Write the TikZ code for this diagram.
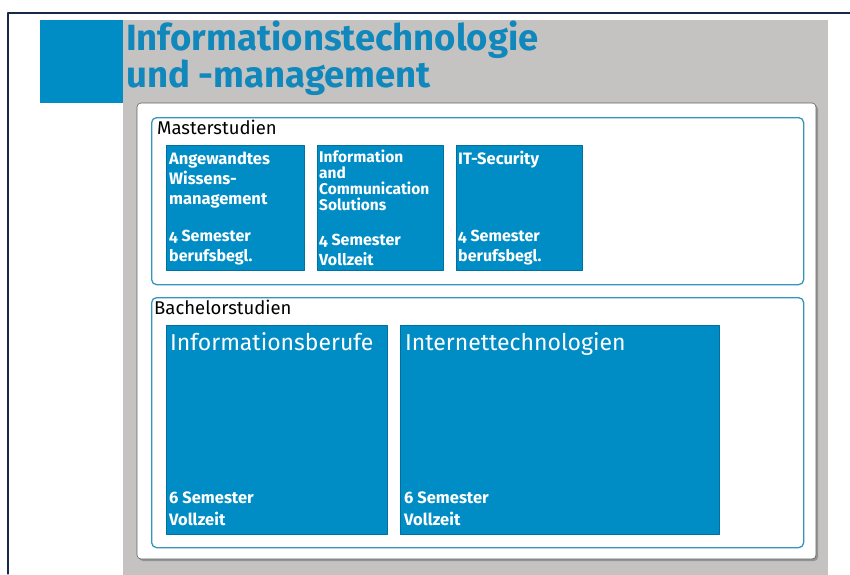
\documentclass[tikz,border=0pt]{standalone}
\usepackage{fontspec}
\setmainfont{Fira Sans}
\newcommand\oldfigs{\addfontfeature{Numbers=OldStyle}}
\definecolor{fhblue}{RGB}{0,141,198}
\definecolor{fhtitle}{RGB}{16,136,188}
\definecolor{fhframe}{RGB}{52,150,186}
\definecolor{panelgray}{RGB}{197,194,194}
\definecolor{navyline}{RGB}{22,42,72}
\tikzset{
  studbox/.style={draw=fhblue!80!black,line width=0.6pt,fill=fhblue,anchor=north west,inner sep=0pt},
  groupbox/.style={draw=fhframe,line width=1.3pt,rounded corners=5pt,fill=white,anchor=north west,inner sep=0pt},
  boxhead/.style={anchor=north west,text=white,align=left,inner sep=0pt,font=\bfseries\fontsize{16.5}{20}\selectfont},
  boxfoot/.style={anchor=south west,text=white,align=left,inner sep=0pt,font=\bfseries\oldfigs\fontsize{16}{20}\selectfont},
  grouptitle/.style={anchor=north west,inner sep=0pt,font=\fontsize{18.5}{20}\selectfont}
}
\begin{document}
\begin{tikzpicture}[x=1pt,y=-1pt,line cap=round,line join=round]
  \useasboundingbox (0,0) rectangle (850,574);
  % frame lines and title band
  \draw[navyline,line width=1.2pt] (8,574) -- (8,13) -- (850,13);
  \fill[panelgray] (123,20) rectangle (828,576);
  \fill[fhblue] (40,20) rectangle (123,103);
  \node[anchor=north west,inner sep=0pt,text=fhtitle,align=left,
        font=\bfseries\fontsize{36.5}{34}\selectfont] (title) at (126,21)
        {Informationstechnologie\\und -management};
  % white panel with shadow
  \fill[gray!85,rounded corners=4pt] (139,105) rectangle (818,561);
  \draw[gray!75!black,line width=0.6pt,fill=white,rounded corners=4pt] (137,103) rectangle (816,559);
  % master programmes
  \node[groupbox,minimum width=652,minimum height=167] (master) at (151,117) {};
  \node[grouptitle] (mastertitle) at (157,120) {Masterstudien};
  \node[studbox,minimum width=138,minimum height=125] (awm) at (166,145) {};
  \node[studbox,minimum width=126,minimum height=125] (ics) at (317,145) {};
  \node[studbox,minimum width=126,minimum height=125] (its) at (456,145) {};
  \node[boxhead] at ([xshift=3pt,yshift=-7pt]awm.north west) {Angewandtes\\Wissens-\\management};
  \node[boxhead,font=\bfseries\fontsize{15.5}{16}\selectfont] at ([xshift=2pt,yshift=-5pt]ics.north west) {Information\\and\\Communication\\Solutions};
  \node[boxhead] at ([xshift=2pt,yshift=-6pt]its.north west) {IT-Security};
  \node[boxfoot] at ([xshift=3pt,yshift=5pt]awm.south west) {4 Semester\\berufsbegl.};
  \node[boxfoot] at ([xshift=2pt,yshift=5pt]ics.south west) {4 Semester\\Vollzeit};
  \node[boxfoot] at ([xshift=2pt,yshift=5pt]its.south west) {4 Semester\\berufsbegl.};
  % bachelor programmes
  \node[groupbox,minimum width=652,minimum height=250] (bachelor) at (151,297) {};
  \node[grouptitle] (bachelortitle) at (154,300) {Bachelorstudien};
  \node[studbox,minimum width=221,minimum height=209] (ib) at (166,325) {};
  \node[studbox,minimum width=319,minimum height=209] (itec) at (400,325) {};
  \node[boxhead,font=\fontsize{23}{24}\selectfont] at ([xshift=4pt,yshift=-7pt]ib.north west) {Informationsberufe};
  \node[boxhead,font=\fontsize{23}{24}\selectfont] at ([xshift=5pt,yshift=-7pt]itec.north west) {Internettechnologien};
  \node[boxfoot,font=\bfseries\fontsize{16.5}{22}\selectfont] at ([xshift=3pt,yshift=9pt]ib.south west) {6 Semester\\Vollzeit};
  \node[boxfoot,font=\bfseries\fontsize{16.5}{22}\selectfont] at ([xshift=4pt,yshift=9pt]itec.south west) {6 Semester\\Vollzeit};
\end{tikzpicture}
\end{document}
